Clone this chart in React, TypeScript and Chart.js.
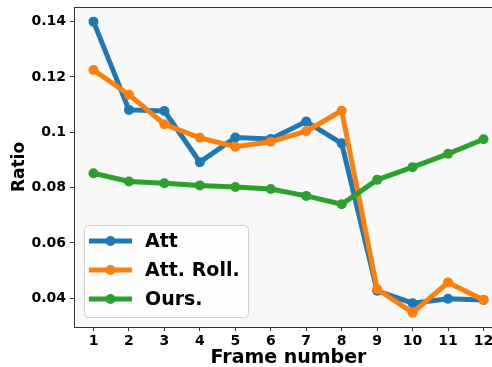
import React, { useEffect, useRef } from "react";
import { Chart, registerables } from "chart.js";

Chart.register(...registerables);

const frames = [1, 2, 3, 4, 5, 6, 7, 8, 9, 10, 11, 12];
const att = [0.14, 0.1081, 0.1077, 0.0892, 0.0981, 0.0976, 0.1039, 0.096, 0.0427, 0.0382, 0.0398, 0.0394];
const attRoll = [0.1225, 0.1136, 0.1029, 0.098, 0.0948, 0.0966, 0.1004, 0.1078, 0.0433, 0.0348, 0.0457, 0.0394];
const ours = [0.0852, 0.0822, 0.0816, 0.0808, 0.0802, 0.0795, 0.077, 0.074, 0.0828, 0.0874, 0.0922, 0.0975];
const yTicks = [0.04, 0.06, 0.08, 0.1, 0.12, 0.14];
const seriesNames = ["Att", "Att. Roll.", "Ours."];
const seriesColors = ["#1f77b4", "#ff7f0e", "#2ca02c"];

const FONT = "'DejaVu Sans', sans-serif";
const SPINE = "#333333";

const decorPlugin = {
  id: "decor",
  beforeDraw(chart: any) {
    const { ctx, chartArea } = chart;
    ctx.save();
    ctx.fillStyle = "#f8f8f8";
    ctx.fillRect(chartArea.left, chartArea.top, chartArea.right - chartArea.left, chartArea.bottom - chartArea.top);
    ctx.restore();
  },
  afterDraw(chart: any) {
    const { ctx, chartArea } = chart;
    ctx.save();
    ctx.strokeStyle = SPINE;
    ctx.lineWidth = 1;
    ctx.beginPath();
    ctx.moveTo(chartArea.left, chartArea.top + 0.5);
    ctx.lineTo(chartArea.right, chartArea.top + 0.5);
    ctx.stroke();
    ctx.beginPath();
    ctx.moveTo(chartArea.right - 0.5, chartArea.top);
    ctx.lineTo(chartArea.right - 0.5, chartArea.bottom);
    ctx.stroke();

    const bx = 84, by = 225, bw = 164, bh = 92, r = 4;
    ctx.fillStyle = "rgba(255,255,255,0.8)";
    ctx.strokeStyle = "#d0d0d0";
    ctx.lineWidth = 1;
    ctx.beginPath();
    ctx.moveTo(bx + r + 0.5, by + 0.5);
    ctx.arcTo(bx + bw + 0.5, by + 0.5, bx + bw + 0.5, by + bh + 0.5, r);
    ctx.arcTo(bx + bw + 0.5, by + bh + 0.5, bx + 0.5, by + bh + 0.5, r);
    ctx.arcTo(bx + 0.5, by + bh + 0.5, bx + 0.5, by + 0.5, r);
    ctx.arcTo(bx + 0.5, by + 0.5, bx + bw + 0.5, by + 0.5, r);
    ctx.closePath();
    ctx.fill();
    ctx.stroke();

    const rows = [241, 270, 299];
    chart.data.datasets.forEach((ds: any, i: number) => {
      const y = rows[i];
      ctx.strokeStyle = ds.borderColor;
      ctx.lineWidth = 5;
      ctx.lineCap = "butt";
      ctx.beginPath();
      ctx.moveTo(89, y);
      ctx.lineTo(132, y);
      ctx.stroke();
      ctx.fillStyle = ds.borderColor;
      ctx.beginPath();
      ctx.arc(110.5, y, 5, 0, Math.PI * 2);
      ctx.fill();
      ctx.fillStyle = "#000";
      ctx.font = `bold 19px ${FONT}`;
      ctx.textBaseline = "middle";
      ctx.textAlign = "left";
      ctx.fillText(ds.label, 145, y + 1);
    });
    ctx.restore();
  },
};

export default function App() {
  const ref = useRef<HTMLCanvasElement | null>(null);

  useEffect(() => {
    if (!ref.current) return;
    const seriesData = [att, attRoll, ours];
    const chart = new Chart(ref.current, {
      type: "line",
      data: {
        datasets: seriesData.map((vals, i) => ({
          label: seriesNames[i],
          data: frames.map((f, j) => ({ x: f, y: vals[j] })),
          borderColor: seriesColors[i],
          backgroundColor: seriesColors[i],
          borderWidth: 5,
          pointRadius: 5,
          pointHoverRadius: 5,
          pointBorderWidth: 0,
          pointBackgroundColor: seriesColors[i],
          tension: 0,
          fill: false,
          order: 3 - i,
        })),
      },
      options: {
        responsive: false,
        animation: false,
        events: [],
        layout: { padding: { top: 7, left: 0, right: 0, bottom: 0 } },
        plugins: { legend: { display: false }, tooltip: { enabled: false } },
        scales: {
          x: {
            type: "linear",
            min: 0.45,
            max: 12.55,
            afterBuildTicks: (scale: any) => {
              scale.ticks = frames.map((v) => ({ value: v }));
            },
            afterFit: (scale: any) => {
              scale.height = 40;
              scale.paddingLeft = 0;
              scale.paddingRight = 0;
            },
            ticks: {
              color: "#000",
              font: { family: FONT, size: 14, weight: "bold" },
              padding: 2,
              maxRotation: 0,
              autoSkip: false,
              callback: (v: any) => String(v),
            },
            grid: { drawOnChartArea: false, drawTicks: true, tickLength: 4, tickColor: SPINE },
            border: { display: true, color: SPINE, width: 1 },
            title: {
              display: true,
              text: "Frame number",
              color: "#000",
              font: { family: FONT, size: 19, weight: "bold", lineHeight: 0.9 },
              padding: { top: 0, bottom: 0 },
            },
          },
          y: {
            type: "linear",
            min: 0.0296,
            max: 0.1453,
            afterBuildTicks: (scale: any) => {
              scale.ticks = yTicks.map((v) => ({ value: v }));
            },
            afterFit: (scale: any) => {
              scale.width = 74;
              scale.paddingTop = 0;
              scale.paddingBottom = 0;
            },
            ticks: {
              color: "#000",
              font: { family: FONT, size: 14, weight: "bold" },
              padding: 4,
              autoSkip: false,
              callback: (v: any) => String(+Number(v).toFixed(2)),
            },
            grid: { drawOnChartArea: false, drawTicks: true, tickLength: 4, tickColor: SPINE },
            border: { display: true, color: SPINE, width: 1 },
            title: {
              display: true,
              text: "Ratio",
              color: "#000",
              font: { family: FONT, size: 17, weight: "bold", lineHeight: 1.2 },
              padding: { top: 9.8, bottom: 0 },
            },
          },
        },
      },
      plugins: [decorPlugin],
    });
    return () => chart.destroy();
  }, []);

  return (
    <div style={{ position: "fixed", left: 0, top: 0, width: 492, height: 367, overflow: "hidden", background: "#fff" }}>
      <canvas ref={ref} width={508} height={367} style={{ display: "block" }} />
    </div>
  );
}
